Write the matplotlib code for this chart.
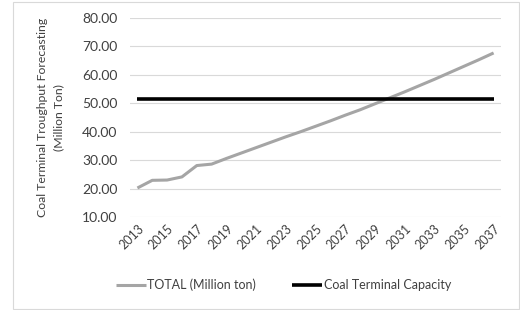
import matplotlib.pyplot as plt
from matplotlib.patches import Rectangle

years = list(range(2013, 2038))
total = [20.2, 22.9, 23.0, 24.1, 28.1, 28.6, 30.6, 32.5, 34.4, 36.3, 38.2, 40.0,
         41.9, 43.8, 45.8, 47.7, 49.8, 51.9, 54.0, 56.2, 58.4, 60.7, 63.0, 65.3, 67.7]
capacity = [51.5] * len(years)
yticks = [10, 20, 30, 40, 50, 60, 70, 80]

plt.rcParams['font.family'] = ['Lato', 'DejaVu Sans']

fig = plt.figure(figsize=(5.2, 3.1), dpi=100)
ax = fig.add_axes([0.25, 0.30, 0.7135, 0.642])

# chart border
fig.patches.append(Rectangle((13 / 520, 1 / 310), 506 / 520, 307 / 310, transform=fig.transFigure,
                             fill=False, edgecolor='#d9d9d9', linewidth=0.8))

idx = list(range(len(years)))
l1, = ax.plot(idx, total, color='#a5a5a5', linewidth=2.2, solid_capstyle='butt')
l2, = ax.plot(idx, capacity, color='black', linewidth=2.6, solid_capstyle='butt')

ax.set_xlim(-0.5, len(years) - 0.5)
ax.set_ylim(10, 80)
ax.set_yticks(yticks)
ax.set_yticklabels(['%.2f' % v for v in yticks], fontsize=10, color='#404040')
ax.set_xticks(idx[::2])
ax.set_xticklabels([str(y) for y in years[::2]], rotation=45, ha='right',
                   rotation_mode='anchor', fontsize=9, color='#404040')
ax.tick_params(axis='both', length=0)
ax.tick_params(axis='y', pad=9)
ax.tick_params(axis='x', pad=4)
for s in ax.spines.values():
    s.set_visible(False)
ax.grid(axis='y', color='#d9d9d9', linewidth=0.8)
ax.set_axisbelow(True)

ax.set_ylabel('Coal Terminal Troughput Forecasting\n(Million Ton)', fontsize=8.8,
              color='#404040', linespacing=1.6)
ax.yaxis.set_label_coords(-0.178, 0.5)

fig.legend([l1, l2], ['TOTAL (Million ton)', 'Coal Terminal Capacity'],
           loc='center', bbox_to_anchor=(0.545, 0.08), ncol=2, frameon=False,
           fontsize=9, handlelength=2.4, handletextpad=0.1, columnspacing=2.9,
           labelcolor='#404040')

fig.savefig('out.png', dpi=100)
